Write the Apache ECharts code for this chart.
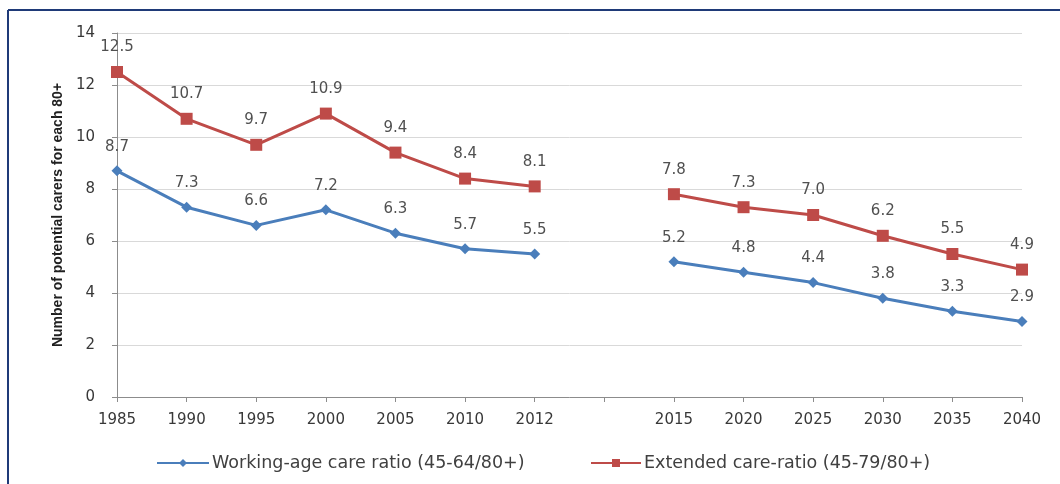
<!DOCTYPE html>
<html>
<head>
<meta charset="utf-8">
<script src="https://cdn.jsdelivr.net/npm/echarts@6/dist/echarts.min.js"></script>
<style>
html,body{margin:0;padding:0;background:#fff;}
#c{width:1060px;height:484px;}
</style>
</head>
<body>
<div id="c"></div>
<script>
var categories = ['1985','1990','1995','2000','2005','2010','2012','','2015','2020','2025','2030','2035','2040'];
var workingAge = [8.7,7.3,6.6,7.2,6.3,5.7,5.5,null,5.2,4.8,4.4,3.8,3.3,2.9];
var extended = [12.5,10.7,9.7,10.9,9.4,8.4,8.1,null,7.8,7.3,7.0,6.2,5.5,4.9];
var seriesNames = ['Working-age care ratio (45-64/80+)','Extended care-ratio (45-79/80+)'];
var yAxisTitle = 'Number of potential carers for each 80+';

var chart = echarts.init(document.getElementById('c'));
var labelCfg = {
  show: true, position: 'top', distance: 11,
  fontFamily: 'DejaVu Sans', fontSize: 15, color: '#505050',
  formatter: function(p){ return p.value == null ? '' : Number(p.value).toFixed(1); }
};
chart.setOption({
  backgroundColor: '#ffffff',
  animation: false,
  grid: {left: 117, right: 38, top: 33, bottom: 87},
  graphic: [
    {type:'line', shape:{x1:8,y1:10,x2:1060,y2:10}, style:{stroke:'#1F3A78', lineWidth:2}},
    {type:'line', shape:{x1:8,y1:10,x2:8,y2:484}, style:{stroke:'#1F3A78', lineWidth:2}}
  ],
  legend: [
    {data:[seriesNames[0]], left: 151, top: 449, itemWidth: 52, itemHeight: 10, itemGap: 4,
     textStyle:{fontFamily:'DejaVu Sans', fontSize:17.5, color:'#404040', padding:[0,0,0,-2]}},
    {data:[seriesNames[1]], left: 585, top: 449, itemWidth: 50, itemHeight: 10, itemGap: 4,
     textStyle:{fontFamily:'DejaVu Sans', fontSize:17.5, color:'#404040', padding:[0,0,0,-2]}}
  ],
  xAxis: {
    type: 'category', data: categories, boundaryGap: false,
    axisLine: {lineStyle:{color:'#8C8C8C', width:1}},
    axisTick: {show:true, interval:0, length:5, lineStyle:{color:'#8C8C8C'}},
    axisLabel: {interval:0, margin:16, fontFamily:'DejaVu Sans', fontSize:15, color:'#383838'},
    splitLine: {show:false}
  },
  yAxis: {
    type: 'value', min: 0, max: 14, interval: 2,
    name: yAxisTitle, nameLocation: 'middle', nameGap: 52, nameRotate: 90,
    nameTextStyle: {fontFamily:'Liberation Sans', fontSize:14, fontWeight:'bold', color:'#202020'},
    axisLine: {show:true, lineStyle:{color:'#8C8C8C', width:1}},
    axisTick: {show:true, length:5, lineStyle:{color:'#8C8C8C'}},
    axisLabel: {margin:22, fontFamily:'DejaVu Sans', fontSize:15, color:'#383838'},
    splitLine: {lineStyle:{color:'#D9D9D9', width:1}}
  },
  series: [
    {name: seriesNames[0], type:'line', data: workingAge, connectNulls:false,
     symbol:'diamond', symbolSize:11, color:'#4A7EBB',
     lineStyle:{width:3, color:'#4A7EBB'}, itemStyle:{color:'#4A7EBB'},
     label: labelCfg},
    {name: seriesNames[1], type:'line', data: extended, connectNulls:false,
     symbol:'rect', symbolSize:12, color:'#BE4B48',
     lineStyle:{width:3, color:'#BE4B48'}, itemStyle:{color:'#BE4B48'},
     label: labelCfg}
  ]
});
</script>
</body>
</html>
